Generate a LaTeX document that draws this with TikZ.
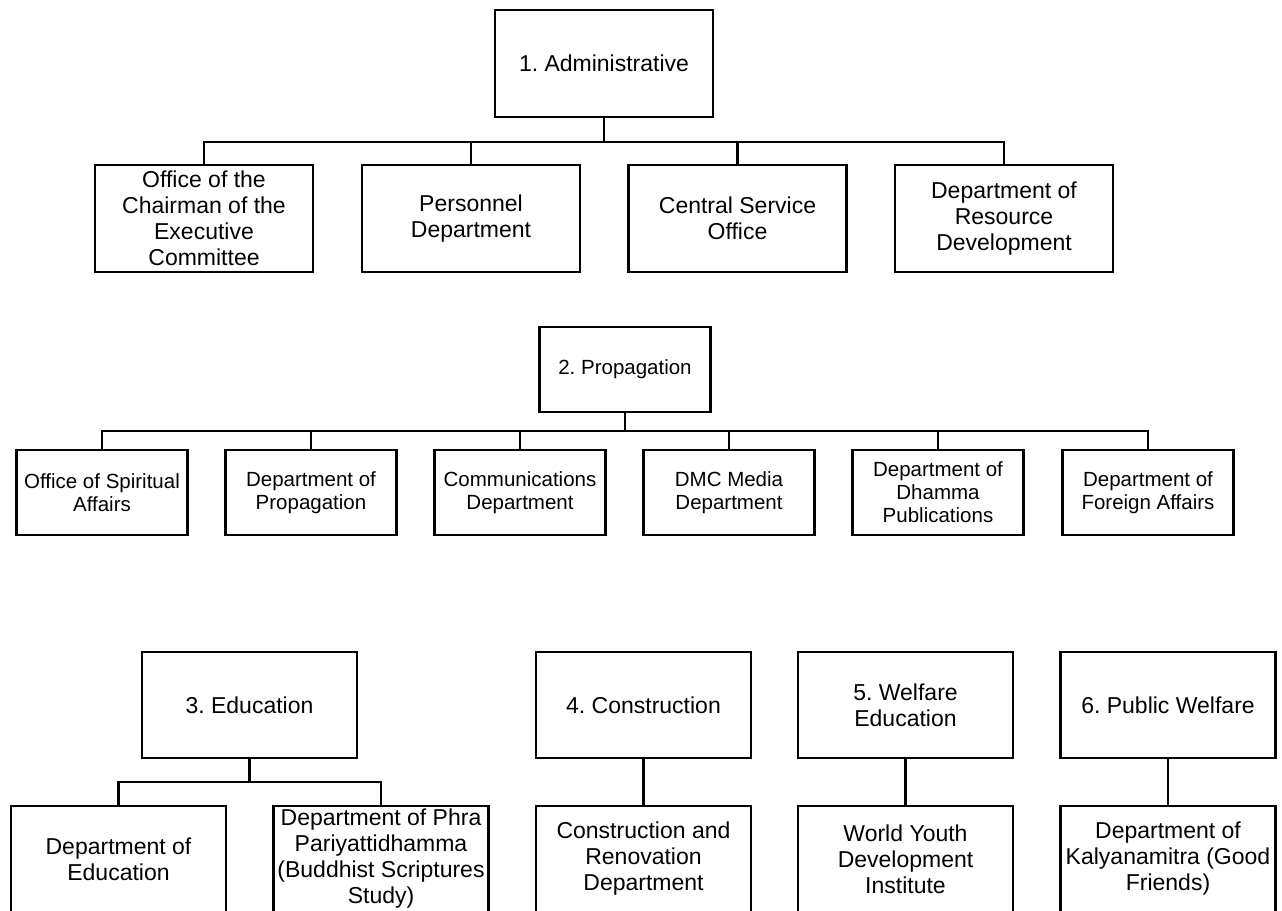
\documentclass[tikz,border=0pt]{standalone}
\usepackage{fontspec}
\setmainfont{Liberation Sans}
\usetikzlibrary{positioning}
\frenchspacing

\begin{document}
\begin{tikzpicture}[x=1pt,y=-1pt,
	box/.style={draw, line width=2.8pt, fill=white, align=center, inner sep=0pt},
	bigbox/.style={box, minimum width=218pt, minimum height=107pt, font=\fontsize{23}{26}\selectfont},
	propbox/.style={box, minimum width=171pt, minimum height=85pt, font=\fontsize{20.5}{23}\selectfont},
	lowbox/.style={box, minimum width=215pt, minimum height=106pt, font=\fontsize{23}{26}\selectfont},
	link/.style={line width=2.6pt}]
	\clip (0,0) rectangle (1282,910);

	\node[bigbox] (adm) at (604,63.5) {1. Administrative};
	\node[bigbox] (chair) at (204,218.5) {Office of the\\Chairman of the\\Executive\\Committee};
	\node[bigbox] (pers) at (471,218.5) {Personnel\\Department};
	\node[bigbox] (serv) at (737.5,218.5) {Central Service\\Office};
	\node[bigbox] (res) at (1004,218.5) {Department of\\Resource\\Development};
	\coordinate (bus1) at (604,142);
	\draw[link] (adm.south) -- (bus1);
	\foreach \n in {chair,pers,serv,res}
		\draw[link] (bus1) -| (\n.north);

	\node[propbox] (prop) at (625,369.5) {2. Propagation};
	\node[propbox] (spirit) at (102,492.5) {Office of Spiritual\\Affairs};
	\node[propbox] (propdept) at (311,492.5) {Department of\\Propagation};
	\node[propbox] (comm) at (520,492.5) {Communications\\Department};
	\node[propbox] (media) at (729,492.5) {DMC Media\\Department};
	\node[propbox] (dhamma) at (938,492.5) {Department of\\Dhamma\\Publications};
	\node[propbox] (foreign) at (1148,492.5) {Department of\\Foreign Affairs};
	\coordinate (bus2) at (625,431);
	\draw[link] (prop.south) -- (bus2);
	\foreach \n in {spirit,propdept,comm,media,dhamma,foreign}
		\draw[link] (bus2) -| (\n.north);

	\node[lowbox] (edu) at (249.5,705) {3. Education};
	\node[lowbox] (cons) at (643.5,705) {4. Construction};
	\node[lowbox] (welf) at (905.5,705) {5. Welfare\\Education};
	\node[lowbox] (pubw) at (1168,705) {6. Public Welfare};
	\node[lowbox] (edudept) at (118.5,859) {Department of\\Education};
	\node[lowbox] (phra) at (381,859) {Department of Phra\\Pariyattidhamma\\(Buddhist Scriptures\\Study)};
	\node[lowbox] (reno) at (643.5,859) {Construction and\\Renovation\\Department};
	\node[lowbox] (youth) at (905.5,859) {World Youth\\Development\\Institute};
	\node[lowbox] (kalya) at (1168,859) {Department of\\Kalyanamitra (Good\\Friends)};
	\coordinate (bus3) at (249.5,782);
	\draw[link] (edu.south) -- (bus3);
	\foreach \n in {edudept,phra}
		\draw[link] (bus3) -| (\n.north);
	\draw[link] (cons) -- (reno);
	\draw[link] (welf) -- (youth);
	\draw[link] (pubw) -- (kalya);
\end{tikzpicture}
\end{document}
